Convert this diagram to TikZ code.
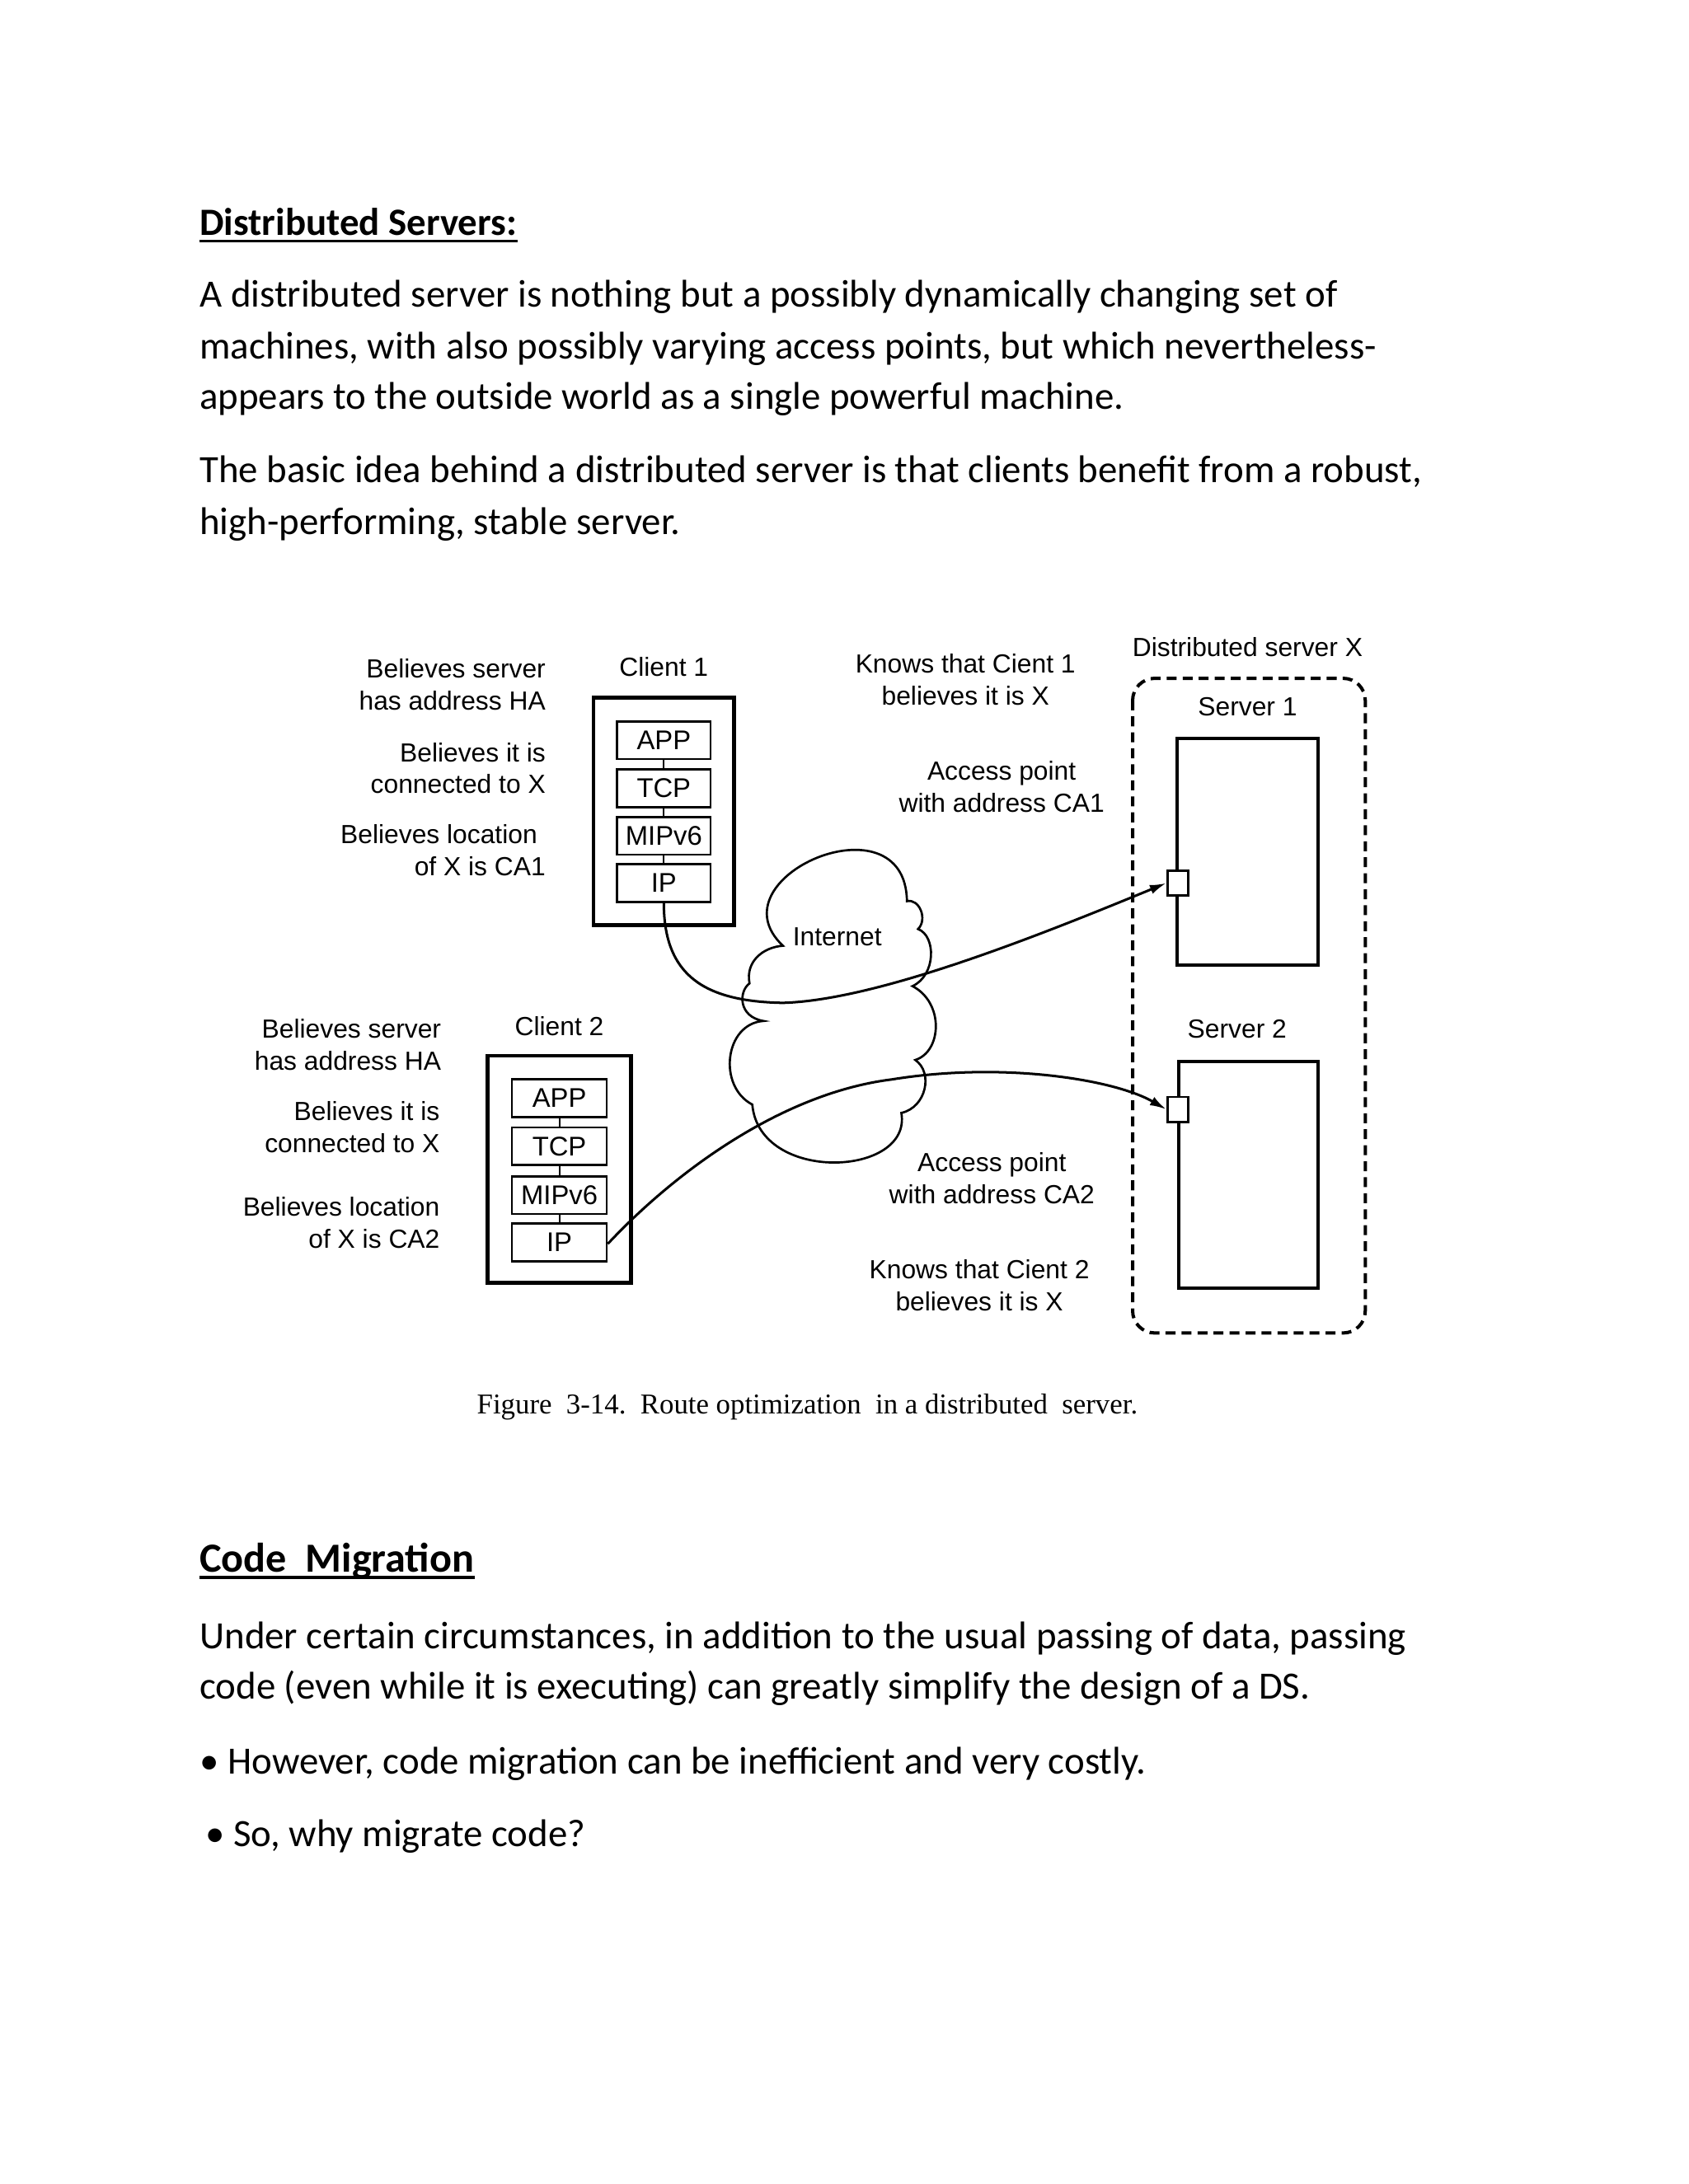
\documentclass[tikz,border=0pt]{standalone}
\usepackage{fontspec}
\setmainfont{Carlito}
\newfontfamily\diagfont{Liberation Sans}
\newfontfamily\capfont{Liberation Serif}
\usetikzlibrary{positioning, arrows.meta, calc}
\newlength{\dpx}\setlength{\dpx}{0.50495pt}

\begin{document}
\begin{tikzpicture}[
    x=\dpx, y=-\dpx,
    bodytxt/.style={anchor=base west, inner sep=0pt, font=\fontsize{14}{17}\selectfont},
    headtxt/.style={anchor=base west, inner sep=0pt, font=\fontsize{14}{17}\selectfont\bfseries},
    lbl/.style={inner sep=0pt, align=center, font=\diagfont\fontsize{9.5}{11.6}\selectfont},
    rlbl/.style={lbl, align=right, anchor=east},
    clientbox/.style={draw, line width=1.4pt, minimum width=101\dpx, minimum height=163\dpx, inner sep=0pt},
    layerbox/.style={draw, line width=0.8pt, minimum width=67\dpx, minimum height=27\dpx,
        inner sep=0pt, font=\diagfont\fontsize{9.8}{11}\selectfont},
    serverbox/.style={draw, line width=1.3pt, minimum width=101\dpx, minimum height=163\dpx, inner sep=0pt},
    apbox/.style={draw, fill=white, line width=0.8pt, minimum width=15\dpx, minimum height=18\dpx, inner sep=0pt},
    route/.style={line width=0.9pt, -{Latex[length=6pt, width=3.4pt]}},
    uline/.style={line width=1pt},
]

\useasboundingbox (0,0) rectangle (1212,1568);

% Column x-coordinates
\def\cA{476.5}
\def\cB{401.5}
\def\sx{895.5}
\def\lx{143}

% ====== SECTION: DISTRIBUTED SERVERS ======
\node[headtxt] (hdist) at (\lx,169) {Distributed Servers:};
\draw[uline] ($(hdist.base west)+(0,4)$) -- ($(hdist.base east)+(0,4)$);

\node[bodytxt] (p1a) at (\lx,220.5) {A distributed server is nothing but a possibly dynamically changing set of};
\node[bodytxt] (p1b) at (\lx,257.5) {machines, with also possibly varying access points, but which nevertheless-};
\node[bodytxt] (p1c) at (\lx,293.5) {appears to the outside world as a single powerful machine.};
\node[bodytxt] (p2a) at (\lx,346.5) {The basic idea behind a distributed server is that clients benefit from a robust,};
\node[bodytxt] (p2b) at (\lx,383.5) {high-performing, stable server.};

% ====== CLIENT 1 ======
\node[rlbl] (c1ha) at (392,491.5) {Believes server\\has address HA};
\node[rlbl] (c1cx) at (392,551.5) {Believes it is\\connected to X};
\node[rlbl] (c1loc) at (392,610.5) {Believes location\kern3pt\\of X is CA1};
\node[lbl] (c1name) at (\cA,478.5) {Client 1};

\node[clientbox] (c1) at (\cA,582.5) {};
\node[layerbox] (app1) at (\cA,531.5) {APP};
\node[layerbox] (tcp1) at (\cA,566) {TCP};
\node[layerbox] (mip1) at (\cA,600) {MIPv6};
\node[layerbox] (ip1) at (\cA,634) {IP};
\draw[line width=0.6pt] (app1) -- (tcp1) (tcp1) -- (mip1) (mip1) -- (ip1);

% ====== CLIENT 2 ======
\node[rlbl] (c2ha) at (317,750) {Believes server\\has address HA};
\node[rlbl] (c2cx) at (316,809) {Believes it is\\connected to X};
\node[rlbl] (c2loc) at (316,878) {Believes location\\of X is CA2};
\node[lbl] (c2name) at (\cB,736.5) {Client 2};

\node[clientbox, minimum width=103\dpx] (c2) at (\cB,839.5) {};
\node[layerbox, minimum width=68\dpx] (app2) at (\cB,788.5) {APP};
\node[layerbox, minimum width=68\dpx] (tcp2) at (\cB,823) {TCP};
\node[layerbox, minimum width=68\dpx] (mip2) at (\cB,858) {MIPv6};
\node[layerbox, minimum width=68\dpx] (ip2) at (\cB,892) {IP};
\draw[line width=0.6pt] (app2) -- (tcp2) (tcp2) -- (mip2) (mip2) -- (ip2);

% ====== INTERNET CLOUD ======
\draw[line width=0.8pt]
    (562,679) .. controls (510,630) and (650,570) .. (651,647)
    .. controls (660,645) and (666,660) .. (659,667)
    .. controls (672,672) and (672,700) .. (655,708)
    .. controls (678,720) and (676,755) .. (657,761)
    .. controls (670,770) and (665,795) .. (647,799)
    .. controls (655,845) and (545,850) .. (540,793)
    .. controls (515,780) and (520,735) .. (548,733)
    .. controls (530,730) and (530,712) .. (538,706)
    .. controls (535,690) and (548,680) .. (562,679) -- cycle;
\node[lbl] (inet) at (601,672.5) {Internet};

% ====== DISTRIBUTED SERVER X ======
\node[lbl] (dsname) at (\sx,464.5) {Distributed server X};
\draw[line width=1.2pt, dash pattern=on 3.6pt off 2.2pt, rounded corners=8pt]
    (813,487) rectangle (980,957);

\node[lbl] (s1name) at (\sx,507.5) {Server 1};
\node[serverbox] (s1) at (\sx,611.5) {};
\node[apbox] (ap1) at (845.5,634) {};

\node[lbl] (s2name) at (888,738.5) {Server 2};
\node[serverbox, minimum width=100\dpx] (s2) at (896,843.5) {};
\node[apbox] (ap2) at (845.5,796.5) {};

\node[lbl] (k1) at (693,488) {Knows that Cient 1\\believes it is X};
\node[lbl] (ca1) at (719,565) {Access point\\with address CA1};
\node[lbl] (ca2) at (712,846) {Access point\\with address CA2};
\node[lbl] (k2) at (703,923) {Knows that Cient 2\\believes it is X};

% ====== ROUTES ======
\draw[route] (ip1.south) .. controls (476.5,700) and (505,719) .. (562,720)
    .. controls (630,718) and (745,672) .. (ap1.west);
\draw[route] ($(ip2.east)+(0,1)$) .. controls (483,843) and (560,785) .. (640,775)
    .. controls (720,762) and (800,775) .. (ap2.west);

% ====== CAPTION ======
\node[anchor=base west, inner sep=0pt, font=\capfont\fontsize{10.4}{12}\selectfont] (cap) at (342,1015)
    {Figure\ \ 3-14.\ \ Route optimization\ \ in a distributed\ \ server.};

% ====== SECTION: CODE MIGRATION ======
\node[headtxt, font=\fontsize{15}{18}\selectfont\bfseries] (hcode) at (\lx,1128.5) {Code\ \ Migration};
\draw[uline] ($(hcode.base west)+(0,4)$) -- ($(hcode.base east)+(0,4)$);

\node[bodytxt] (p3a) at (\lx,1183.5) {Under certain circumstances, in addition to the usual passing of data, passing};
\node[bodytxt] (p3b) at (\lx,1219.5) {code (even while it is executing) can greatly simplify the design of a DS.};
\node[bodytxt] (p4) at (\lx,1273.5) {• However, code migration can be inefficient and very costly.};
\node[bodytxt] (p5) at (147,1325.5) {• So, why migrate code?};

\end{tikzpicture}
\end{document}
